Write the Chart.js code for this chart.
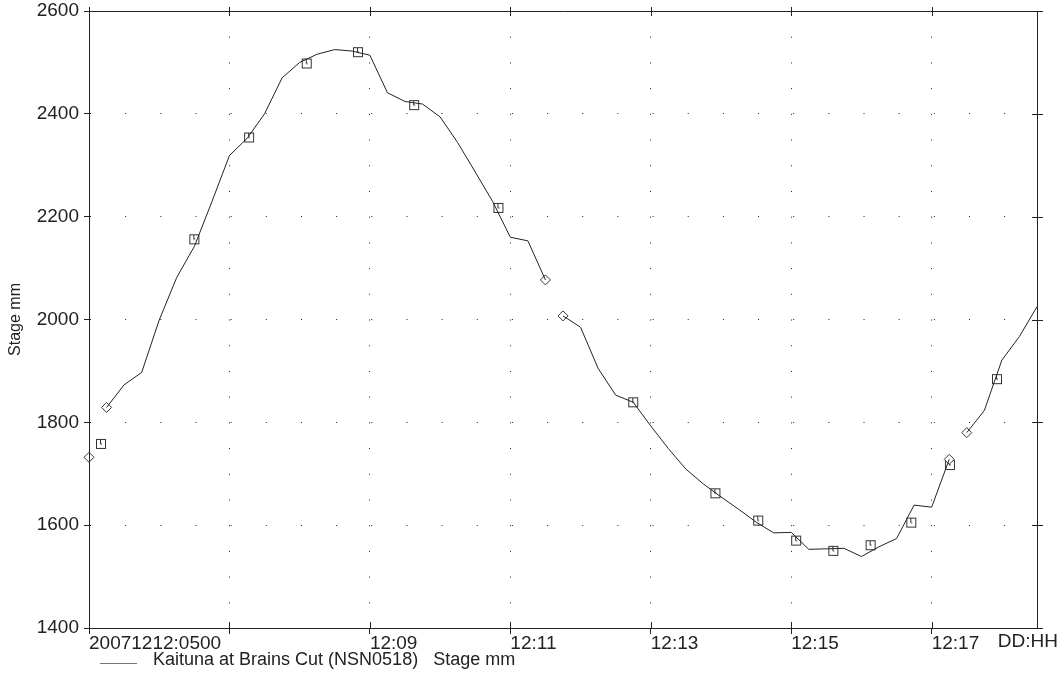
<!DOCTYPE html>
<html>
<head>
<meta charset="utf-8">
<script src="https://cdn.jsdelivr.net/npm/chart.js@4.4.0/dist/chart.umd.min.js"></script>
<style>
  html, body { margin: 0; padding: 0; background: #fff; }
  #wrap { width: 1063px; height: 673px; }
</style>
</head>
<body>
<div id="wrap"><canvas id="stage"></canvas></div>
<script>
// hours after 2007-12-12 05:00
const hours = [0, 0.25, 0.5, 0.75, 1, 1.25, 1.5, 1.75, 2, 2.25, 2.5, 2.75, 3, 3.25, 3.5, 3.75,
  4, 4.25, 4.5, 4.75, 5, 5.25, 5.5, 5.75, 6, 6.25, 6.5, 6.75, 7, 7.25, 7.5, 7.75,
  8, 8.25, 8.5, 8.75, 9, 9.25, 9.5, 9.75, 10, 10.25, 10.5, 10.75, 11, 11.25, 11.5, 11.75,
  12, 12.25, 12.5, 12.75, 13, 13.25, 13.5];
const stage = [1732, 1829, 1873, 1897, 1999, 2082, 2142, 2229, 2319, 2352, 2400, 2470, 2500, 2516, 2525, 2522,
  2514, 2441, 2424, 2419, 2394, 2344, 2287, 2229, 2160, 2153, 2077, 2007, 1985, 1905, 1853, 1839,
  1793, 1749, 1709, 1680, 1655, 1631, 1606, 1585, 1586, 1553, 1554, 1555, 1539, 1558, 1574, 1639,
  1635, 1728, 1780, 1823, 1921, 1967, 2025];
// line breaks after these samples
const gapAfter = [0, 6.5, 12.25];

const diamondHours = [0, 0.25, 6.5, 6.75, 12.25, 12.5];
const diamondStage = [1732, 1829, 2077, 2007, 1728, 1780];

const squareHours = [0.17, 1.5, 2.28, 3.1, 3.83, 4.63, 5.83, 7.75, 8.92, 9.53, 10.07, 10.6, 11.13, 11.71, 12.26, 12.93];
const squareStage = [1758, 2156, 2354, 2498, 2520, 2417, 2217, 1839, 1662, 1609, 1570, 1550, 1561, 1605, 1717, 1884];

const xTickLabels = { 0: '20071212:0500', 2: '', 4: '12:09', 6: '12:11', 8: '12:13', 10: '12:15', 12: '12:17' };
const legendText = 'Kaituna at Brains Cut (NSN0518)   Stage mm';

const FONT = '"Liberation Sans", Arial, sans-serif';
const INK = '#222';

// hollow square marker with the little tick inside
const sq = document.createElement('canvas');
sq.width = 12; sq.height = 12;
(function () {
  const c = sq.getContext('2d');
  c.strokeStyle = '#333';
  c.lineWidth = 1;
  c.fillStyle = '#fff';
  c.fillRect(1, 1, 10, 10);
  c.strokeRect(1.5, 1.5, 9, 9);
  c.beginPath();
  c.moveTo(5.5, 2); c.lineTo(5.5, 6);
  c.moveTo(5.5, 6); c.lineTo(7, 6);
  c.stroke();
})();

const pts = (xs, ys) => xs.map((x, i) => ({ x: x, y: ys[i] }));

// frame on top/right, inside halves of ticks, legend and DD:HH label
const framePlugin = {
  id: 'frame',
  afterDraw(chart) {
    const { ctx, chartArea: a, scales } = chart;
    ctx.save();
    ctx.strokeStyle = INK;
    ctx.lineWidth = 1;
    ctx.beginPath();
    ctx.moveTo(a.left + 0.5, a.bottom + 0.5);
    ctx.lineTo(a.left + 0.5, a.top + 0.5);
    ctx.lineTo(a.right + 0.5, a.top + 0.5);
    ctx.lineTo(a.right + 0.5, a.bottom + 0.5);
    ctx.lineTo(a.left + 0.5, a.bottom + 0.5);
    scales.x.ticks.forEach(t => {
      const px = Math.round(scales.x.getPixelForValue(t.value)) + 0.5;
      ctx.moveTo(px, a.bottom - 6); ctx.lineTo(px, a.bottom);
      ctx.moveTo(px, a.top - 4); ctx.lineTo(px, a.top + 5);
    });
    scales.y.ticks.forEach(t => {
      const py = Math.round(scales.y.getPixelForValue(t.value)) + 0.5;
      ctx.moveTo(a.right - 5, py); ctx.lineTo(a.right + 6, py);
    });
    ctx.stroke();

    ctx.fillStyle = INK;
    ctx.font = '19px ' + FONT;
    ctx.textBaseline = 'alphabetic';
    ctx.textAlign = 'right';
    ctx.fillText('DD:HH', 1058, 647);

    ctx.font = '18px ' + FONT;
    ctx.textAlign = 'left';
    ctx.fillText(legendText, 153, 665);
    ctx.strokeStyle = '#777';
    ctx.beginPath();
    ctx.moveTo(100, 663.5); ctx.lineTo(137, 663.5);
    ctx.stroke();
    ctx.restore();
  }
};

new Chart(document.getElementById('stage'), {
  type: 'line',
  data: {
    datasets: [
      {
        data: pts(hours, stage),
        borderColor: INK,
        borderWidth: 1,
        pointRadius: 0,
        tension: 0,
        segment: {
          borderColor: c => gapAfter.includes(c.p0.parsed.x) ? 'rgba(0,0,0,0)' : undefined
        }
      },
      {
        data: pts(diamondHours, diamondStage),
        showLine: false,
        clip: false,
        pointStyle: 'rectRot',
        pointRadius: 5,
        pointBorderWidth: 1,
        pointBorderColor: '#333',
        pointBackgroundColor: '#fff'
      },
      {
        data: pts(squareHours, squareStage),
        showLine: false,
        clip: false,
        pointStyle: sq
      }
    ]
  },
  options: {
    responsive: true,
    maintainAspectRatio: false,
    animation: false,
    events: [],
    layout: { padding: { top: 11, right: 26, bottom: 20, left: 0 } },
    plugins: { legend: { display: false }, tooltip: { enabled: false } },
    scales: {
      x: {
        type: 'linear',
        min: 0,
        max: 13.5,
        afterFit: s => { s.height = 25; s.paddingLeft = 0; s.paddingRight = 0; },
        afterBuildTicks: s => { s.ticks = Object.keys(xTickLabels).map(v => ({ value: +v })); },
        ticks: {
          align: 'start',
          padding: -2,
          maxRotation: 0,
          autoSkip: false,
          color: INK,
          font: { family: FONT, size: 19 },
          callback: v => xTickLabels[v]
        },
        grid: { color: INK, lineWidth: 1, tickLength: 6, tickColor: INK },
        border: { color: INK, dash: [1, 24.71] }
      },
      y: {
        min: 1400,
        max: 2600,
        afterFit: s => { s.width = 89; s.paddingTop = 0; s.paddingBottom = 0; },
        ticks: {
          stepSize: 200,
          padding: 5,
          color: INK,
          font: { family: FONT, size: 19 },
          callback: v => String(v)
        },
        grid: { color: INK, lineWidth: 1, tickLength: 5, tickColor: INK },
        border: { color: INK, dash: [1, 34.16] },
        title: {
          display: true,
          text: 'Stage mm',
          color: INK,
          font: { family: FONT, size: 16 },
          padding: { top: 6, bottom: 0 }
        }
      }
    }
  },
  plugins: [framePlugin]
});
</script>
</body>
</html>
